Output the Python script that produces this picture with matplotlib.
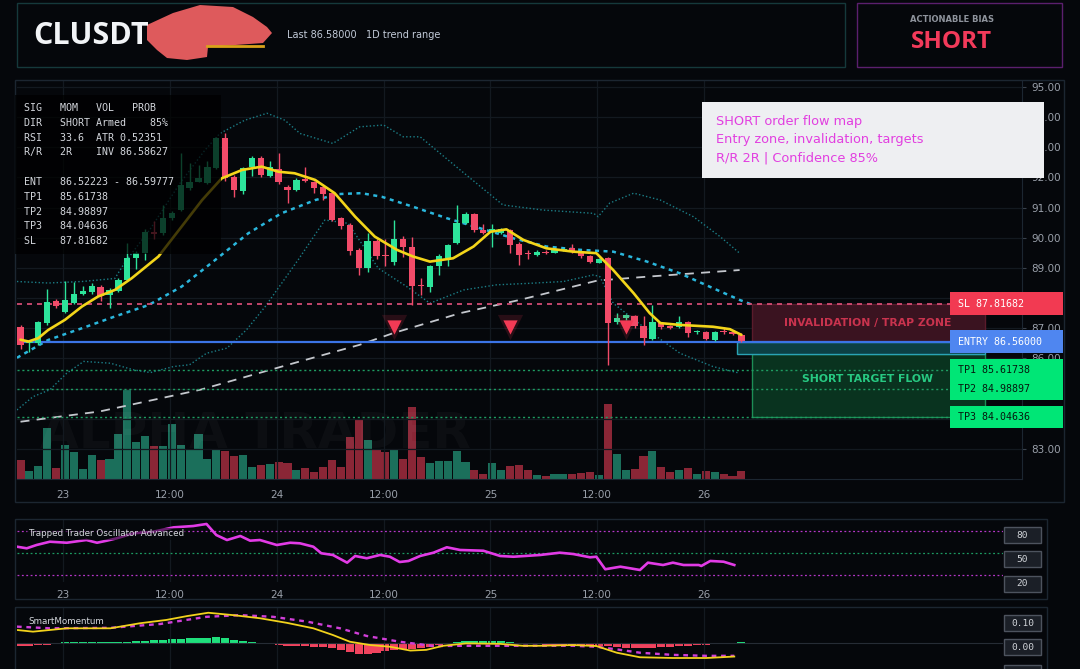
import matplotlib
matplotlib.use("Agg")
import matplotlib.pyplot as plt
from matplotlib.patches import Rectangle, Polygon
from matplotlib.transforms import blended_transform_factory
import numpy as np

W, H = 1080, 669
BG = "#05070b"
FRAME = "#1c2631"
GRID = "#131920"
TXT = "#9aa0aa"
GREEN = "#2de49b"
RED = "#f24b69"
MONO = "DejaVu Sans Mono"
SANS = "DejaVu Sans"

# ---------------- data (hourly bars) ----------------
opens = [87.05, 86.50, 86.52, 87.17, 87.92, 87.55, 87.85, 88.13, 88.19, 88.38,
         88.10, 88.25, 88.60, 89.32, 89.51, 90.20, 90.15, 90.65, 90.92, 91.64,
         91.86, 91.81, 92.31, 93.30, 92.03, 91.56, 92.34, 92.64, 92.05, 92.27,
         91.70, 91.59, 91.93, 91.86, 91.70, 91.48, 90.65, 90.43, 89.60, 89.01,
         89.90, 89.40, 89.21, 89.95, 89.71, 88.43, 88.38, 89.07, 89.32, 89.84,
         90.50, 90.78, 90.26, 90.24, 90.17, 90.26, 89.80, 89.46, 89.43, 89.53,
         89.51, 89.59, 89.65, 89.51, 89.40, 89.18, 89.32, 87.22, 87.33, 87.41,
         87.08, 86.63, 87.19, 87.06, 87.03, 87.22, 86.86, 86.86, 86.61, 86.92,
         86.89, 86.78]
highs = [87.10, 86.60, 87.24, 88.29, 87.98, 88.57, 88.55, 88.40, 88.50, 88.45,
         88.32, 88.65, 89.83, 89.55, 90.30, 90.55, 91.09, 90.90, 92.80, 92.47,
         92.40, 92.55, 93.35, 93.46, 92.08, 92.35, 92.70, 92.70, 92.55, 92.80,
         91.75, 91.98, 92.36, 91.90, 91.75, 91.55, 90.70, 90.50, 89.65, 90.15,
         89.95, 89.95, 90.59, 90.05, 90.04, 88.65, 89.10, 89.45, 89.80, 91.09,
         90.85, 90.82, 90.45, 90.45, 90.32, 90.30, 89.85, 89.60, 89.58, 89.60,
         89.66, 89.65, 89.80, 89.55, 89.42, 89.32, 89.35, 87.52, 87.48, 87.45,
         87.40, 87.77, 87.22, 87.10, 87.40, 87.25, 86.95, 86.90, 86.92, 87.05,
         86.95, 86.85]
lows = [86.30, 86.20, 86.45, 87.10, 87.68, 87.50, 87.80, 88.10, 88.15, 87.90,
        87.67, 88.20, 88.58, 88.95, 89.25, 89.95, 90.10, 90.60, 90.90, 91.60,
        91.84, 91.78, 92.28, 91.90, 91.36, 91.45, 92.05, 92.00, 92.00, 91.80,
        91.14, 91.55, 91.85, 91.50, 91.25, 90.55, 90.30, 89.43, 88.77, 88.85,
        89.30, 89.05, 89.10, 89.35, 87.77, 88.10, 88.20, 88.75, 89.05, 89.80,
        90.45, 90.20, 90.12, 89.70, 90.12, 89.50, 89.10, 89.30, 89.40, 89.45,
        89.48, 89.55, 89.50, 89.32, 89.18, 89.15, 85.79, 87.15, 87.28, 87.00,
        86.45, 86.60, 86.98, 86.98, 87.00, 86.70, 86.82, 86.60, 86.58, 86.82,
        86.78, 86.55]
closes = [86.45, 86.55, 87.21, 87.88, 87.74, 87.94, 88.14, 88.24, 88.40, 88.08,
          88.27, 88.60, 89.32, 89.49, 90.20, 90.12, 90.65, 90.81, 91.75, 91.86,
          91.97, 92.36, 93.30, 91.97, 91.59, 92.30, 92.64, 92.08, 92.36, 91.86,
          91.59, 91.92, 91.90, 91.64, 91.45, 90.59, 90.39, 89.57, 89.01, 89.90,
          89.38, 89.38, 89.95, 89.71, 88.41, 88.41, 89.07, 89.40, 89.76, 90.50,
          90.78, 90.26, 90.17, 90.27, 90.28, 89.76, 89.43, 89.45, 89.54, 89.50,
          89.62, 89.61, 89.54, 89.38, 89.21, 89.29, 87.19, 87.33, 87.44, 87.08,
          86.67, 87.22, 87.05, 87.02, 87.22, 86.84, 86.87, 86.63, 86.89, 86.88,
          86.81, 86.59]
volume = [18.7, 7.7, 13.3, 51, 11, 34.3, 26.7, 10.3, 24.3, 18.7,
          20.3, 45, 89.3, 36.7, 43.3, 33.3, 33.3, 55, 34.3, 29.3,
          45.3, 20, 29.3, 27.7, 23.3, 23.7, 12, 13.7, 15.3, 17,
          16, 9.3, 11, 7.3, 11.7, 18.7, 11.7, 42.3, 59.3, 38.7,
          28.7, 27, 29.3, 20.3, 72, 21.7, 16, 17.7, 18.3, 27.7,
          17, 8.7, 5.3, 16, 8.7, 12.7, 14.3, 8.7, 3.7, 3.3,
          5.3, 5.3, 5.3, 5.7, 6.7, 4.3, 75.3, 25.3, 9.3, 10.3,
          23.3, 27.7, 11.7, 6.7, 9.3, 11, 5.3, 7.7, 7, 5.3,
          3.3, 7.7]

# overlays (bar position, value)
ema_x = [0.0, 0.9, 2.0, 3.1, 5.0, 6.9, 8.7, 10.6, 12.5, 15.5, 18.1, 20.4, 22.6, 24.9,
         27.1, 29.0, 30.8, 33.1, 35.3, 37.6, 39.8, 42.3, 44.1, 46.0, 48.6, 50.9, 52.8,
         54.6, 56.5, 59.1, 62.1, 64.7, 66.6, 68.9, 70.7, 71.9, 74.1, 77.8, 79.7, 81.0]
ema_y = [86.62, 86.56, 86.67, 86.94, 87.28, 87.72, 88.05, 88.27, 88.66, 89.38, 90.37,
         91.25, 91.97, 92.25, 92.36, 92.19, 92.14, 91.92, 91.48, 90.70, 90.04, 89.60,
         89.38, 89.21, 89.32, 89.71, 90.20, 90.28, 89.93, 89.65, 89.54, 89.49, 88.93,
         88.16, 87.50, 87.17, 87.11, 87.05, 86.97, 86.78]
bb_mid_x = [-0.4, 3.1, 6.9, 10.6, 14.4, 18.1, 21.9, 25.6, 29.3, 33.1, 35.7, 38.3, 40.6,
            44.1, 47.9, 51.6, 55.4, 59.1, 62.9, 66.6, 70.4, 74.1, 77.8, 80.8, 82.2]
bb_mid_y = [86.02, 86.61, 87.00, 87.39, 87.77, 88.38, 89.27, 90.15, 90.81, 91.25, 91.45,
            91.48, 91.36, 91.03, 90.65, 90.32, 89.98, 89.71, 89.60, 89.54, 89.21, 88.82,
            88.33, 87.94, 87.78]
bb_up_x = [-0.4, 3.1, 6.9, 10.6, 11.7, 14.6, 17.9, 20.7, 22.4, 25.2, 27.7, 29.7, 31.4,
           35.1, 38.1, 40.8, 43.0, 44.9, 49.4, 54.2, 58.7, 64.4, 64.9, 66.2, 68.9, 71.9,
           75.6, 78.6, 80.8]
bb_up_y = [88.55, 88.50, 88.55, 88.65, 89.17, 90.30, 91.80, 92.90, 93.46, 93.90, 94.13,
           93.90, 93.46, 93.13, 93.68, 93.74, 93.35, 93.35, 92.25, 91.09, 90.92, 90.81,
           90.70, 91.15, 91.48, 91.25, 90.70, 90.04, 89.49]
bb_lo_x = [-0.4, 1.4, 3.3, 5.2, 7.1, 10.1, 12.7, 14.6, 17.2, 19.0, 20.9, 23.2, 25.4, 27.5,
           31.2, 34.2, 36.8, 40.2, 43.4, 46.0, 49.8, 53.5, 57.2, 61.0, 64.4, 65.1, 66.6,
           70.4, 74.1, 77.8, 80.8]
bb_lo_y = [84.29, 84.73, 84.96, 85.51, 85.90, 85.84, 85.62, 85.53, 85.73, 85.79, 86.17,
           86.34, 86.95, 87.72, 89.27, 90.59, 90.48, 88.99, 88.38, 87.83, 88.27, 88.44,
           88.49, 88.55, 88.77, 88.71, 87.83, 86.95, 86.17, 85.73, 85.51]
ma_x = [0.0, 8.9, 20.2, 31.4, 38.1, 41.9, 49.4, 56.1, 64.8, 70.4, 80.8]
ma_y = [83.90, 84.24, 84.96, 85.90, 86.45, 86.84, 87.50, 87.94, 88.58, 88.71, 88.93]

sig_x = [42, 55, 68]
sig_y = [87.05, 87.05, 87.05]

SL, ENTRY, ENTRY_LOW = 87.81682, 86.56, 86.15
TP1, TP2, TP3 = 85.61738, 84.98897, 84.04636

# oscillator panel
osc_x = [-0.4, 0.7, 1.8, 3.3, 5.2, 7.4, 8.6, 9.7, 10.8, 12.7, 14.9, 17.2, 19.4, 20.9,
         22.0, 23.2, 24.7, 25.8, 26.9, 28.8, 30.3, 31.4, 32.9, 33.8, 35.1, 36.7, 37.6,
         38.9, 40.4, 41.5, 42.6, 43.6, 44.9, 46.4, 47.9, 49.4, 52.0, 53.9, 55.4, 58.4,
         60.6, 62.1, 64.0, 64.7, 65.7, 67.4, 68.5, 69.6, 70.5, 72.2, 73.3, 74.5, 76.2,
         76.5, 77.5, 79.0, 80.2]
osc_y = [58.2, 56, 60.5, 65, 63.6, 67.3, 63.6, 66.4, 69.6, 76.5, 78.6, 84.6, 86.4, 89.2,
         74.1, 67.3, 72.8, 66.4, 67.3, 60.5, 63.6, 62.8, 58.2, 49.2, 46.9, 36.4, 45.5,
         42.4, 46.9, 44.5, 37.3, 38.7, 45.5, 50, 57.4, 53.7, 52.7, 45.5, 44.5, 46.9,
         50, 48.2, 43.7, 44.5, 27.4, 30.9, 28.7, 26.4, 36.4, 33.2, 36.4, 33.2, 33.2,
         31.9, 38.7, 37.7, 33.2]
osc_levels = [80, 50, 20]

# momentum panel
mom_x = [-0.4, 1.4, 5.2, 10.1, 13.4, 16.4, 18.7, 21.1, 23.9, 26.9, 29.9, 32.9, 35.1,
         37.0, 39.3, 41.5, 43.8, 45.6, 47.5, 50.1, 53.9, 56.4, 58.4, 62.1, 64.7, 67.0,
         69.6, 73.3, 77.1, 80.2]
mom_y = [0.053, 0.046, 0.060, 0.060, 0.081, 0.095, 0.111, 0.125, 0.115, 0.102, 0.083,
         0.060, 0.032, 0.004, -0.010, -0.017, -0.033, -0.030, -0.013, -0.003, -0.005,
         -0.013, -0.013, -0.010, -0.014, -0.042, -0.061, -0.064, -0.064, -0.058]
momsig_x = [-0.4, 3.3, 10.1, 15.7, 20.9, 24.7, 28.4, 32.2, 35.9, 38.9, 42.6, 46.4, 50.1,
            53.9, 62.1, 64.7, 67.0, 69.6, 73.3, 77.1, 80.2]
momsig_y = [0.067, 0.060, 0.062, 0.078, 0.108, 0.115, 0.108, 0.088, 0.060, 0.028, 0.004,
            -0.014, -0.013, -0.013, -0.013, -0.017, -0.028, -0.042, -0.051, -0.055, -0.055]
mom_hist = [-0.012, -0.012, -0.010, -0.010, -0.006, 0.001, 0.001, 0.001, 0.002, 0.002,
            0.002, 0.002, 0.004, 0.006, 0.008, 0.010, 0.012, 0.015, 0.017, 0.018,
            0.018, 0.018, 0.022, 0.019, 0.012, 0.006, 0.002, -0.003, -0.005, -0.008,
            -0.012, -0.014, -0.016, -0.018, -0.020, -0.024, -0.030, -0.040, -0.047, -0.046,
            -0.042, -0.036, -0.030, -0.026, -0.028, -0.024, -0.018, -0.010, -0.004, 0.004,
            0.006, 0.008, 0.008, 0.007, 0.005, 0.003, -0.005, -0.006, -0.007, -0.008,
            -0.008, -0.008, -0.008, -0.009, -0.010, -0.012, -0.016, -0.020, -0.022, -0.024,
            -0.024, -0.022, -0.020, -0.018, -0.014, -0.012, -0.010, -0.008, -0.007, -0.006,
            -0.004, 0.001]

tick_pos = [4.8, 16.8, 28.8, 40.8, 52.8, 64.8, 76.8]
tick_lab = ["23", "12:00", "24", "12:00", "25", "12:00", "26"]

table_rows = ["SIG   MOM   VOL   PROB",
              "DIR   SHORT Armed    85%",
              "RSI   33.6  ATR 0.52351",
              "R/R   2R    INV 86.58627",
              "",
              "ENT   86.52223 - 86.59777",
              "TP1   85.61738",
              "TP2   84.98897",
              "TP3   84.04636",
              "SL    87.81682"]
note_rows = ["SHORT order flow map",
             "Entry zone, invalidation, targets",
             "R/R 2R | Confidence 85%"]


def rect(x0, y0, x1, y1):
    return [x0 / W, 1 - y1 / H, (x1 - x0) / W, (y1 - y0) / H]


def px_to_bar(x):
    return (x - 20.5) / 8.9


fig = plt.figure(figsize=(W / 100, H / 100), dpi=100, facecolor=BG)

# ---------------- main price panel ----------------
ax = fig.add_axes(rect(17, 81, 1022, 479))
axv = ax.twinx()
axv.set_zorder(ax.get_zorder() - 1)
ax.patch.set_visible(False)
axv.axis("off")

bars = np.arange(len(opens))
o, hi, lo, c = map(np.array, (opens, highs, lows, closes))
up = c >= o
ccol = np.where(up, GREEN, RED)
xlo, xhi = px_to_bar(17), px_to_bar(1022)

axv.bar(bars, volume, width=0.9, color=np.where(up, "#1b6f5b", "#8a2636"), linewidth=0)
axv.set_ylim(0, 398)
axv.set_xlim(xlo, xhi)
axv.text(px_to_bar(255), 45, "ALPHA TRADER", color="white", alpha=0.032,
         fontsize=36, fontweight="bold", ha="center", va="center")

ax.set_xlim(xlo, xhi)
ax.set_ylim(82.0, 95.2)
ax.set_yticks(range(83, 96))
ax.set_yticklabels([f"{v:.2f}" for v in range(83, 96)])
ax.set_xticks(tick_pos)
ax.set_xticklabels(tick_lab)
ax.yaxis.tick_right()
ax.tick_params(axis="y", length=3, color="#3a414c", labelcolor=TXT, labelsize=7.5, pad=4)
ax.tick_params(axis="x", length=0, labelcolor=TXT, labelsize=7.5, pad=8)
ax.grid(True, color=GRID, lw=0.9)
ax.set_axisbelow(True)
for s in ("top", "left"):
    ax.spines[s].set_visible(False)
for s in ("bottom", "right"):
    ax.spines[s].set_color(FRAME)

# bands and averages
ax.plot(ma_x, ma_y, color="#c4c7cd", lw=1.3, dashes=(5, 4), zorder=2)
ax.plot(bb_up_x, bb_up_y, color="#1b7d86", lw=1.0, ls=(0, (1, 1.6)), zorder=2)
ax.plot(bb_lo_x, bb_lo_y, color="#1b7d86", lw=1.0, ls=(0, (1, 1.6)), zorder=2)
ax.plot(bb_mid_x, bb_mid_y, color="#2ab6dc", lw=1.8, dashes=(1.6, 1.8), zorder=2)

# zones
ax.add_patch(Rectangle((px_to_bar(752), ENTRY), px_to_bar(985) - px_to_bar(752), SL - ENTRY,
                       fc="#3a1320", ec="#5a1b2b", lw=1, zorder=1.6))
ax.add_patch(Rectangle((px_to_bar(752), TP3), px_to_bar(985) - px_to_bar(752), ENTRY_LOW - TP3,
                       fc="#09331f", ec="#1d8e56", lw=1, zorder=1.6))
ax.add_patch(Rectangle((px_to_bar(737), ENTRY_LOW), px_to_bar(985) - px_to_bar(737), ENTRY - ENTRY_LOW,
                       fc="#0c4044", ec="#2aa3b5", lw=1, zorder=1.7))
ax.text(px_to_bar(868), (SL + ENTRY) / 2, "INVALIDATION / TRAP ZONE", color="#c9334e",
        fontsize=7.8, fontweight="bold", ha="center", va="center", zorder=2)
ax.text(px_to_bar(868), (TP1 + TP2) / 2, "SHORT TARGET FLOW", color="#27c982",
        fontsize=7.8, fontweight="bold", ha="center", va="center", zorder=2)

# level lines
lv_end = px_to_bar(950)
ax.hlines(SL, xlo, lv_end, colors="#e0507a", lw=1.2, linestyles=(0, (3, 3)), zorder=2.5)
for tp in (TP1, TP2, TP3):
    ax.hlines(tp, xlo, lv_end, colors="#1e9c62", lw=1.0, linestyles=(0, (1.5, 2)), zorder=2.5)
ax.hlines(ENTRY, xlo, lv_end, colors="#3b74e6", lw=1.6, zorder=2.6)

# candles
ax.vlines(bars, lo, hi, colors=ccol, lw=1.0, zorder=3)
ax.bar(bars, np.maximum(np.abs(c - o), 0.035), bottom=np.minimum(o, c), width=0.7,
       color=ccol, linewidth=0, zorder=4)
ax.plot(ema_x, ema_y, color="#f3d51a", lw=1.9, zorder=5, solid_capstyle="round")

# sell signals
ax.scatter(sig_x, sig_y, marker="v", s=330, color="#f23a55", alpha=0.15, linewidths=0, zorder=6)
ax.scatter(sig_x, sig_y, marker="v", s=105, color="#f23a55", linewidths=0, zorder=6)

# price tags at the right
tr = blended_transform_factory(fig.transFigure, ax.transData)
tags = [(f"SL {SL:.5f}", SL, "#f23a52", "white"),
        (f"ENTRY {ENTRY:.5f}", ENTRY, "#4f86f0", "white"),
        (f"TP1 {TP1:.5f}", TP1, "#00e676", "#06180e"),
        (f"TP2 {TP2:.5f}", TP2, "#00e676", "#06180e"),
        (f"TP3 {TP3:.5f}", TP3, "#00e676", "#06180e")]
for lab, p, fc, tc in tags:
    ax.add_patch(Rectangle((950 / W, p - 0.37), 113 / W, 0.74, transform=tr, fc=fc,
                           ec="none", clip_on=False, zorder=7))
for lab, p, fc, tc in tags:
    ax.text(958 / W, p, lab, transform=tr, color=tc, fontsize=7.2, family=MONO,
            va="center", ha="left", clip_on=False, zorder=8)

# ---------------- oscillator panel ----------------
oxlo, oxhi = px_to_bar(17), px_to_bar(1003)
ao = fig.add_axes(rect(17, 519, 1003, 582))
ao.set_facecolor("none")
ao.set_xlim(oxlo, oxhi)
ao.set_ylim(10, 96)
ao.set_xticks(tick_pos)
ao.set_xticklabels(tick_lab)
ao.set_yticks([])
ao.tick_params(axis="x", length=0, labelcolor=TXT, labelsize=7.5, pad=6)
ao.grid(axis="x", color=GRID, lw=0.9)
for s in ao.spines.values():
    s.set_visible(False)
for lev, lc in zip(osc_levels, ("#b536c8", "#1c9a62", "#b536c8")):
    ao.axhline(lev, color=lc, lw=0.9, ls=(0, (1.5, 2)))
ao.plot(osc_x, osc_y, color="#e23be6", lw=1.9)

# ---------------- momentum panel ----------------
am = fig.add_axes(rect(17, 607, 1003, 669))
am.set_facecolor("none")
am.set_xlim(oxlo, oxhi)
am.set_ylim(-0.110, 0.149)
am.set_xticks(tick_pos)
am.set_xticklabels([])
am.set_yticks([])
am.tick_params(axis="x", length=0)
am.grid(axis="x", color=GRID, lw=0.9)
for s in am.spines.values():
    s.set_visible(False)
hist = np.array(mom_hist)
am.axhline(0, color="#262c35", lw=0.8)
am.bar(bars, hist, width=0.9, color=np.where(hist >= 0, "#1fdf7c", "#f0435e"), linewidth=0)
am.plot(momsig_x, momsig_y, color="#d03ed8", lw=1.7, dashes=(2, 2))
am.plot(mom_x, mom_y, color="#f2d21c", lw=1.3)

# ---------------- overlay: header, frames, boxes ----------------
ov = fig.add_axes([0, 0, 1, 1], zorder=10)
ov.set_xlim(0, W)
ov.set_ylim(H, 0)
ov.axis("off")

ov.add_patch(Rectangle((17, 3), 828, 64, fc="none", ec="#15393b", lw=1))
ov.add_patch(Rectangle((857, 3), 205, 64, fc="none", ec="#5b1f6d", lw=1))
ov.add_patch(Rectangle((15, 80), 1049, 422, fc="none", ec=FRAME, lw=1))
ov.add_patch(Rectangle((15, 519), 1032, 80, fc="none", ec=FRAME, lw=1))
ov.add_patch(Rectangle((15, 607), 1032, 80, fc="none", ec=FRAME, lw=1))

ov.text(33, 36, "CLUSDT", color="#f2f4f7", fontsize=22, fontweight="bold",
        family=["Open Sans", SANS], va="center", ha="left")
blob = [(147, 25), (173, 13), (200, 5), (233, 7), (253, 17), (267, 27), (272, 33),
        (263, 43), (208, 47), (207, 57), (187, 60), (167, 58), (157, 50), (147, 40)]
ov.plot([207, 263], [46, 46], color="#d9a21a", lw=2, zorder=3)
ov.add_patch(Polygon(blob, closed=True, fc="#de5a5c", ec="none", zorder=2))
ov.text(287, 35, "Last 86.58000   1D trend range", color="#c2cad8", fontsize=7,
        family=SANS, va="center", ha="left")
ov.text(952, 20, "ACTIONABLE BIAS", color="#8e939c", fontsize=6, fontweight="bold",
        family=SANS, va="center", ha="center")
ov.text(952, 42, "SHORT", color="#f23a5a", fontsize=17.5, fontweight="bold",
        family=["Open Sans", SANS], va="center", ha="center")

# info table
ov.add_patch(Rectangle((15, 95), 206, 159, fc="black", alpha=0.72, ec="none"))
for k, row in enumerate(table_rows):
    ov.text(24, 108 + k * 14.8, row, color="#d3d6dc", fontsize=7.2, family=MONO,
            va="center", ha="left")

# note box
ov.add_patch(Rectangle((702, 102), 342, 76, fc="#eeeff2", ec="none"))
for k, row in enumerate(note_rows):
    ov.text(716, 122 + k * 18, row, color="#e23fe0", fontsize=9.3, family=SANS,
            va="center", ha="left")

# panel titles
ov.text(28, 534, "Trapped Trader Oscillator Advanced", color="#d6d9de", fontsize=6.3,
        family=SANS, va="center", ha="left",
        bbox=dict(fc=BG, alpha=0.55, ec="none", pad=1))
ov.text(28, 621, "SmartMomentum", color="#d6d9de", fontsize=6.3, family=SANS,
        va="center", ha="left")

# level boxes on the indicator panels
for lab, yc in (("80", 535), ("50", 559), ("20", 584), ("0.10", 623), ("0.00", 647), ("", 673)):
    ov.add_patch(Rectangle((1004, yc - 8), 37, 16, fc="#1b1f27", ec="#4d535e", lw=1))
    ov.text(1022.5, yc, lab, color="#d0d3d8", fontsize=6.8, family=MONO,
            va="center", ha="center")

fig.savefig("out.png", dpi=100, facecolor=BG)
